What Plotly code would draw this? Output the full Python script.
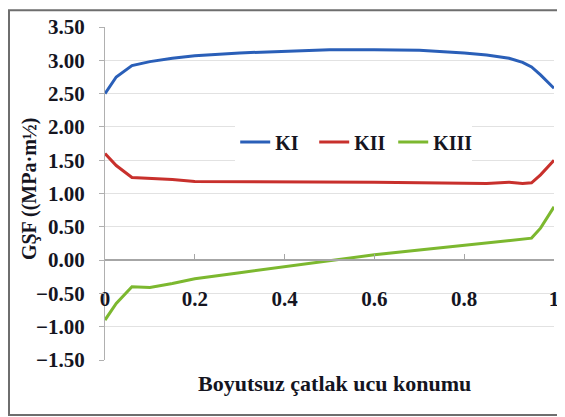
import plotly.graph_objects as go

# dimensionless crack-front position
x_pos = [0, 0.025, 0.06, 0.1, 0.15, 0.2, 0.3, 0.4, 0.5, 0.6, 0.7, 0.8, 0.85, 0.9, 0.93, 0.95, 0.97, 1.0]

k1 = [2.50, 2.75, 2.92, 2.98, 3.03, 3.07, 3.11, 3.14, 3.16, 3.16, 3.15, 3.11, 3.08, 3.03, 2.97, 2.90, 2.78, 2.58]
k2 = [1.60, 1.42, 1.24, 1.23, 1.21, 1.18, 1.18, 1.18, 1.18, 1.17, 1.16, 1.15, 1.15, 1.17, 1.15, 1.16, 1.28, 1.50]
k3 = [-0.90, -0.65, -0.40, -0.41, -0.35, -0.28, -0.19, -0.10, 0.00, 0.08, 0.15, 0.22, 0.26, 0.30, 0.32, 0.33, 0.48, 0.80]

series_names = ["KI", "KII", "KIII"]
series_colors = ["#2a5fb8", "#c8302c", "#7cb82f"]

x_ticks = [0, 0.2, 0.4, 0.6, 0.8, 1]
x_tick_text = ["0", "0.2", "0.4", "0.6", "0.8", "1"]

font_family = "Liberation Serif"
text_color = "#15151f"

fig = go.Figure()
for name, vals, col in zip(series_names, [k1, k2, k3], series_colors):
    fig.add_trace(go.Scatter(
        x=x_pos, y=vals, name=name, mode="lines",
        line=dict(color=col, width=3),
        cliponaxis=False,
    ))

# page body has an 8px margin, so the figure is a bit smaller than the window
fig.update_layout(
    width=557, height=409,
    margin=dict(l=97, r=11, t=19, b=57),
    paper_bgcolor="white",
    plot_bgcolor="white",
    font=dict(family=font_family, size=20, color=text_color),
    legend=dict(
        orientation="h",
        x=0.29, y=0.655, xanchor="left", yanchor="middle",
        bgcolor="white",
        font=dict(family=font_family, size=20, color=text_color, weight="bold"),
        itemwidth=30,
        tracegroupgap=0,
        entrywidth=34,
    ),
    xaxis=dict(
        range=[0, 1],
        tickvals=x_ticks, ticktext=x_tick_text,
        showgrid=False, zeroline=False,
        anchor="free", position=0.3,
        showline=True, linecolor="#a6a6a6", linewidth=2,
        ticks="inside", ticklen=5, tickcolor="#a6a6a6",
        ticklabelstandoff=20,
        automargin=False,
        tickfont=dict(family=font_family, size=21, color=text_color, weight="bold"),
    ),
    yaxis=dict(
        range=[-1.5, 3.5], dtick=0.5, tickformat=".2f",
        showgrid=True, gridcolor="#e2e2e2", gridwidth=1,
        zeroline=False,
        showline=True, linecolor="#b0b0b0", linewidth=1,
        ticks="outside", ticklen=5, tickcolor="#b0b0b0",
        ticklabelstandoff=10,
        automargin=False,
        tickfont=dict(family=font_family, size=21, color=text_color, weight="bold"),
    ),
    showlegend=True,
)

# axis titles
fig.add_annotation(
    text="Boyutsuz çatlak ucu konumu", xref="paper", yref="paper",
    x=0.512, y=-0.114, showarrow=False,
    font=dict(family=font_family, size=22, color=text_color, weight="bold"),
)
fig.add_annotation(
    text="GŞF ((MPa·m½)", xref="paper", yref="paper",
    x=-0.198, y=0.515, showarrow=False, textangle=-90,
    font=dict(family=font_family, size=20, color=text_color, weight="bold"),
)

# outer frame of the original figure
fig.add_shape(
    type="rect", xref="paper", yref="paper",
    x0=-0.2138, x1=1.05, y0=-0.165, y1=1.05,
    line=dict(color="#6e6e6e", width=2), layer="below",
)

fig.write_html("out.html")
